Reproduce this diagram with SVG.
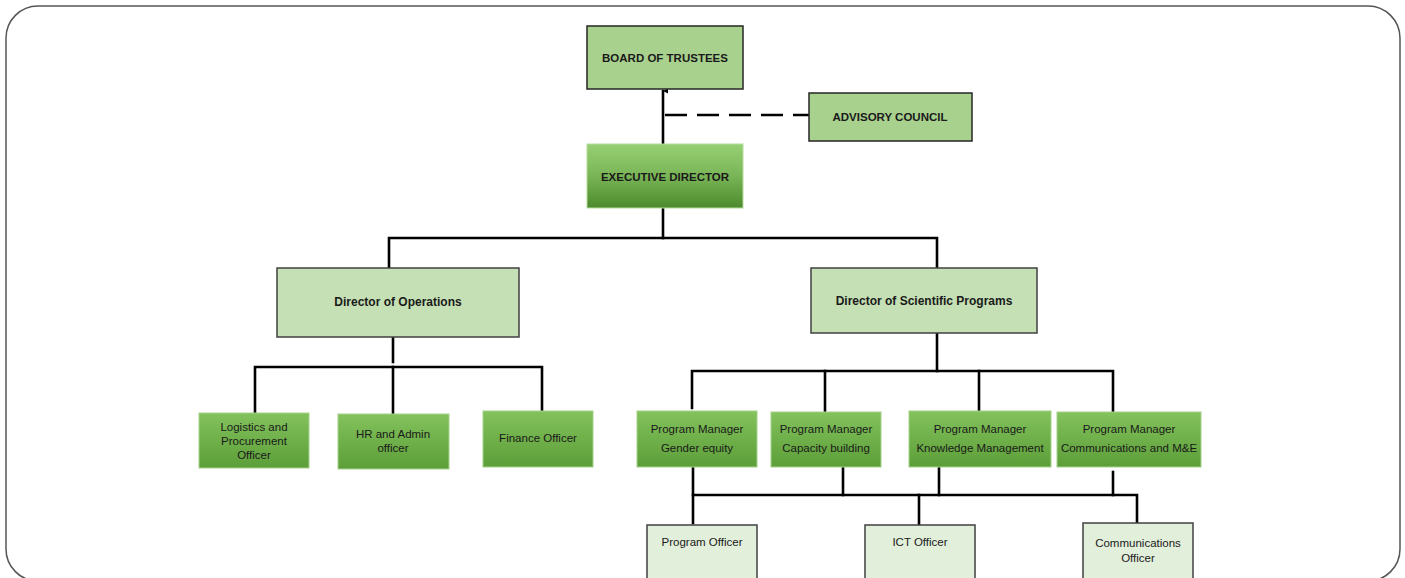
<svg xmlns="http://www.w3.org/2000/svg" width="1405" height="578" viewBox="0 0 1405 578">
<defs>
<style>
.frame{fill:#ffffff;stroke:#555555;stroke-width:1.5}
.top{fill:#a9d18e;stroke:#262626;stroke-width:1.5}
.dir{fill:#c5e0b4;stroke:#404040;stroke-width:1.5}
.mid{fill:url(#gMid);stroke:#a6d18a;stroke-width:1}
.exec{fill:url(#gExec);stroke:#b5dc9c;stroke-width:1}
.off{fill:#e2efda;stroke:#404040;stroke-width:1.5}
.b{font-family:"Liberation Sans",Arial,sans-serif;font-weight:bold;font-size:11.5px;fill:#1a1a1a;text-anchor:middle}
.bd{font-family:"Liberation Sans",Arial,sans-serif;font-weight:bold;font-size:12px;fill:#1a1a1a;text-anchor:middle}
.r{font-family:"Liberation Sans",Arial,sans-serif;font-size:11.5px;fill:#1a1a1a;text-anchor:middle}
.ln{fill:none;stroke:#000000;stroke-width:2.6;stroke-linecap:square}
.dash{fill:none;stroke:#000000;stroke-width:2.6;stroke-dasharray:22 10}
</style>
<linearGradient id="gExec" x1="0" y1="0" x2="0" y2="1">
<stop offset="0" stop-color="#97d074"/>
<stop offset="0.5" stop-color="#79b556"/>
<stop offset="1" stop-color="#4c8a2d"/>
</linearGradient>
<linearGradient id="gMid" x1="0" y1="0" x2="0" y2="1">
<stop offset="0" stop-color="#83c25c"/>
<stop offset="1" stop-color="#5c9e39"/>
</linearGradient>
<marker id="arr" viewBox="0 0 6 6" refX="3" refY="0" markerWidth="5" markerHeight="5" orient="auto-start-reverse" markerUnits="userSpaceOnUse">
<path d="M0,6 L3,0 L6,6 Z" fill="#000"/>
</marker>
</defs>

<rect class="frame" x="6" y="6" width="1394" height="575" rx="32" ry="32"/>

<g id="connectors">
<path class="ln" d="M663,144 V91" marker-end="url(#arr)"/>
<path class="dash" d="M665,115 H809"/>
<path class="ln" d="M663,209 V238"/>
<path class="ln" d="M389,267 V238 H937 V267"/>
<path class="ln" d="M393,338 V362"/>
<path class="ln" d="M255,412 V367 H542 V411"/>
<path class="ln" d="M393,367 V413"/>
<path class="ln" d="M937,334 V371"/>
<path class="ln" d="M692,408 V371 H1113 V411"/>
<path class="ln" d="M825,371 V411"/>
<path class="ln" d="M979,371 V410"/>
<path class="ln" d="M693,467 V495 H1137 V522"/>
<path class="ln" d="M843,468 V495"/>
<path class="ln" d="M939,467 V495"/>
<path class="ln" d="M1113,472 V495"/>
<path class="ln" d="M693,495 V523"/>
<path class="ln" d="M919,495 V524"/>
</g>

<g id="board">
<rect class="top" x="587" y="26" width="156" height="63"/>
<text class="b" x="665" y="62">BOARD OF TRUSTEES</text>
</g>
<g id="advisory">
<rect class="top" x="809" y="93" width="163" height="48"/>
<text class="b" x="890" y="121">ADVISORY COUNCIL</text>
</g>
<g id="executive">
<rect class="exec" x="587" y="144" width="156" height="64"/>
<text class="b" x="665" y="181">EXECUTIVE DIRECTOR</text>
</g>
<g id="dir-ops">
<rect class="dir" x="277" y="268" width="242" height="69"/>
<text class="bd" x="398" y="306">Director of Operations</text>
</g>
<g id="dir-sci">
<rect class="dir" x="811" y="268" width="226" height="65"/>
<text class="bd" x="924" y="305">Director of Scientific Programs</text>
</g>
<g id="logistics">
<rect class="mid" x="199" y="413" width="110" height="55"/>
<text class="r" x="254" y="431">Logistics and</text>
<text class="r" x="254" y="445">Procurement</text>
<text class="r" x="254" y="459">Officer</text>
</g>
<g id="hr">
<rect class="mid" x="338" y="414" width="111" height="55"/>
<text class="r" x="393" y="438">HR and Admin</text>
<text class="r" x="393" y="452">officer</text>
</g>
<g id="finance">
<rect class="mid" x="483" y="411" width="110" height="56"/>
<text class="r" x="538" y="442">Finance Officer</text>
</g>
<g id="pm-gender">
<rect class="mid" x="637" y="411" width="120" height="56"/>
<text class="r" x="697" y="433">Program Manager</text>
<text class="r" x="697" y="452">Gender equity</text>
</g>
<g id="pm-capacity">
<rect class="mid" x="771" y="412" width="110" height="55"/>
<text class="r" x="826" y="433">Program Manager</text>
<text class="r" x="826" y="452">Capacity building</text>
</g>
<g id="pm-knowledge">
<rect class="mid" x="909" y="411" width="142" height="56"/>
<text class="r" x="980" y="433">Program Manager</text>
<text class="r" x="980" y="452">Knowledge Management</text>
</g>
<g id="pm-comms">
<rect class="mid" x="1057" y="412" width="144" height="55"/>
<text class="r" x="1129" y="433">Program Manager</text>
<text class="r" x="1129" y="452">Communications and M&amp;E</text>
</g>
<g id="program-officer">
<rect class="off" x="647" y="525" width="110" height="70"/>
<text class="r" x="702" y="546">Program Officer</text>
</g>
<g id="ict-officer">
<rect class="off" x="865" y="525" width="110" height="70"/>
<text class="r" x="920" y="546">ICT Officer</text>
</g>
<g id="comms-officer">
<rect class="off" x="1083" y="523" width="110" height="70"/>
<text class="r" x="1138" y="547">Communications</text>
<text class="r" x="1138" y="562">Officer</text>
</g>
</svg>
